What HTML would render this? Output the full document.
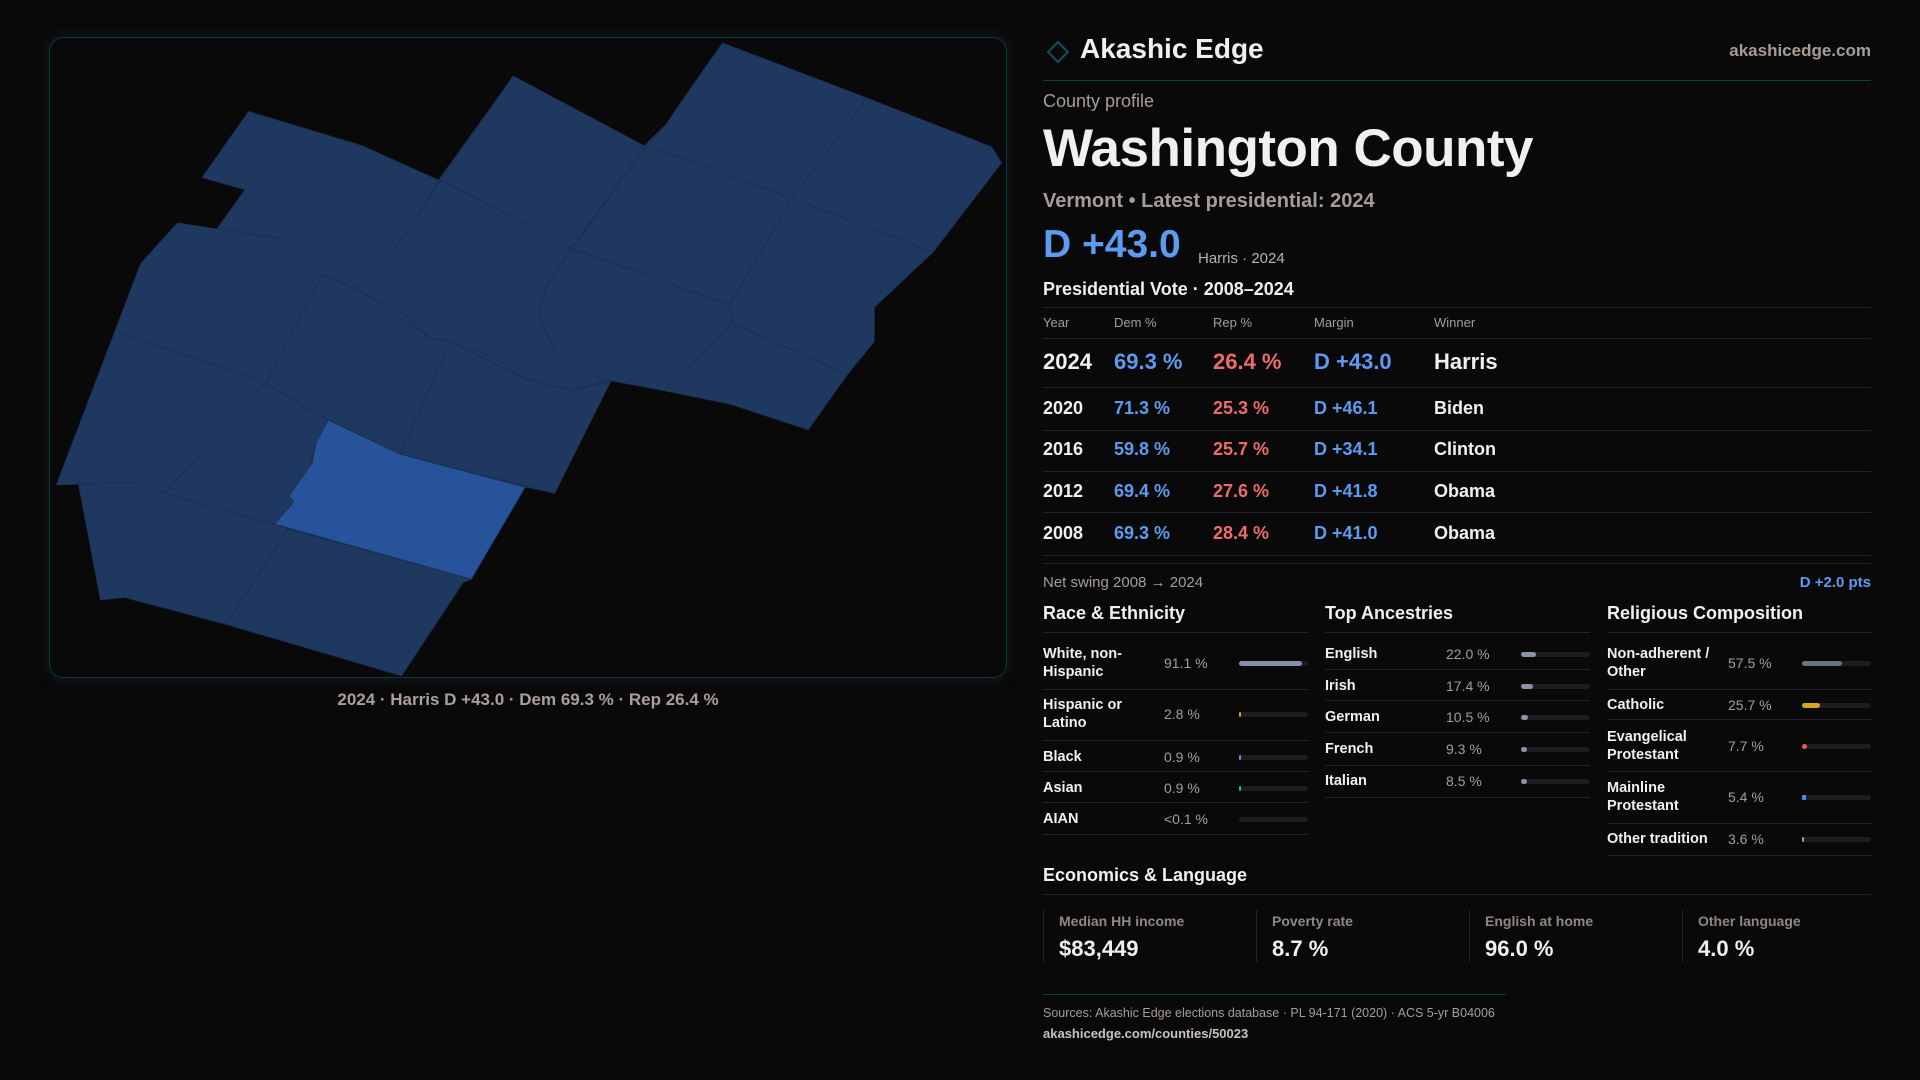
<!DOCTYPE html>
<html><head><meta charset="utf-8">
<style>
*{margin:0;padding:0;box-sizing:border-box}
body{width:1920px;height:1080px;background:#0a0909;font-family:"Liberation Sans",sans-serif;color:#f2f0ee;position:relative;overflow:hidden}
.a{position:absolute;white-space:nowrap}
.g{color:#a59d97}
.hl{position:absolute;left:1043px;width:828px;height:1px;background:#24222a}
.b{color:#5b9cf0}.r{color:#ef6b6b}
.lbl{font-size:14.5px;font-weight:bold;line-height:18px;color:#f2f0ee}
.val{font-size:14px;color:#a59d97}
.trk{position:absolute;height:5px;border-radius:3px;background:#1c1c21}
.bar{position:absolute;left:0;top:0;height:5px;border-radius:3px}
</style></head><body>
<div class="a" style="left:49px;top:37px;width:958px;height:641px;border:1px solid #0f3a42;border-radius:14px;box-shadow:0 0 14px rgba(20,90,110,0.25)"></div>
<svg class="a" style="left:0;top:0" width="1030" height="700" viewBox="0 0 1030 700">
<g transform="scale(1.2245)"><polygon fill="#1e3860" points="203,91 296,119 358,147 419,62 526,119 545,100 553,88 590,35 708,80 810,120 818,133 762,206 714,251 714,279 692,306 660,351 596,330 542,319 499,311 453,403 429,398 385,473 378,476 328,552 185,510 102,488 82,490 64,395 46,396 94,270 115,215 145,182 177,187 200,155 165,145"/></g>
<g id="mapg" transform="scale(1.2245)" stroke="#172e4e" stroke-width="0.6" stroke-linejoin="round"></g>
</svg>
<div class="a g" style="left:0;width:1056px;top:690px;text-align:center;font-size:17px;font-weight:bold;color:#a8a09a">2024 · Harris D +43.0 · Dem 69.3 % · Rep 26.4 %</div>

<div class="a" style="left:1050px;top:44px;width:16px;height:16px;border:2px solid #14505c;transform:rotate(45deg)"></div>
<div class="a" style="left:1080px;top:33px;font-size:28px;font-weight:bold">Akashic Edge</div>
<div class="a g" style="right:49px;top:41px;font-size:17px;font-weight:bold">akashicedge.com</div>
<div class="a" style="left:1043px;top:80px;width:828px;height:1px;background:#0f3c48"></div>
<div class="a g" style="left:1043px;top:91px;font-size:18px">County profile</div>
<div class="a" style="left:1043px;top:118px;font-size:53px;font-weight:bold;letter-spacing:-0.5px">Washington County</div>
<div class="a g" style="left:1043px;top:190px;font-size:20px;font-weight:bold">Vermont • Latest presidential: 2024</div>
<div class="a b" style="left:1043px;top:223px;font-size:39px;font-weight:bold">D +43.0</div>
<div class="a" style="left:1198px;top:250px;font-size:15px;color:#b9b2ac">Harris · 2024</div>
<div class="a" style="left:1043px;top:279px;font-size:18px;font-weight:bold">Presidential Vote · 2008–2024</div>
<div class="hl" style="top:307px"></div>
<div id="votes"></div>
<div class="a g" style="left:1043px;top:574px;font-size:15px">Net swing 2008 → 2024</div>
<div class="a b" style="right:49px;top:574px;font-size:15px;font-weight:bold">D +2.0 pts</div>
<div id="demo"></div>
<div class="a" style="left:1043px;top:865px;font-size:18px;font-weight:bold">Economics &amp; Language</div>
<div class="hl" style="top:894px"></div>
<div id="econ"></div>
<div class="a" style="left:1043px;top:994px;width:463px;height:1px;background:#0f3c48"></div>
<div class="a g" style="left:1043px;top:1006px;font-size:12.5px">Sources: Akashic Edge elections database · PL 94-171 (2020) · ACS 5-yr B04006</div>
<div class="a" style="left:1043px;top:1026px;font-size:13px;font-weight:bold;color:#c8c2bc">akashicedge.com/counties/50023</div>

<script>
const counties=[
[[203,91],[296,119],[358,147],[343,173],[322,203],[292,236],[263,225],[231,195],[177,187],[200,155],[165,145]],
[[419,62],[526,119],[467,203],[360,147]],
[[590,35],[708,80],[647,162],[529,119],[545,100],[553,88]],
[[708,80],[810,120],[818,133],[762,206],[647,162]],
[[360,147],[467,203],[445,236],[440,259],[456,292],[494,311],[467,319],[427,309],[405,292],[368,279],[351,276],[333,259],[314,248],[292,236],[322,203],[343,173]],
[[529,119],[647,162],[596,249],[467,203]],
[[647,162],[762,206],[714,251],[714,279],[692,306],[598,264],[596,249]],
[[467,203],[596,249],[598,264],[542,319],[499,311],[494,311],[456,292],[440,259],[445,236]],
[[598,264],[692,306],[660,351],[596,330],[542,319]],
[[145,182],[177,187],[231,195],[263,225],[217,313],[94,270],[115,215]],
[[263,225],[292,236],[351,276],[368,279],[327,371],[268,343],[217,313]],
[[368,279],[427,309],[467,319],[499,311],[453,403],[327,371]],
[[94,270],[217,313],[134,403],[108,394],[46,396]],
[[217,313],[268,343],[258,365],[253,380],[240,410],[224,428],[134,403]],
[[268,343],[327,371],[429,398],[385,473],[224,428],[240,410],[236,405],[250,385],[255,378],[258,362]],
[[64,395],[108,394],[134,403],[224,428],[235,432],[185,510],[102,488],[82,490]],
[[235,432],[385,473],[378,476],[328,552],[185,510]]
];
const mg=document.getElementById('mapg');
counties.forEach((c,i)=>{
 const p=document.createElementNS('http://www.w3.org/2000/svg','polygon');
 p.setAttribute('points',c.map(q=>q.join(',')).join(' '));
 p.setAttribute('fill',i===14?'#27539a':'#1e3860');
 
 
 mg.appendChild(p);
});

const years=['2024','2020','2016','2012','2008'];
const demPct=[69.3,71.3,59.8,69.4,69.3];
const repPct=[26.4,25.3,25.7,27.6,28.4];
const margins=[43.0,46.1,34.1,41.8,41.0];
const winners=['Harris','Biden','Clinton','Obama','Obama'];
const V=document.getElementById('votes');
function add(parent,html,style,name,cls){const d=document.createElement('div');d.className='a '+(cls||'');d.style.cssText=style;d.innerHTML=html;
 
 
 parent.appendChild(d);return d;}
const cols=[1043,1114,1213,1314,1434];
['Year','Dem %','Rep %','Margin','Winner'].forEach((h,i)=>add(V,h,`left:${cols[i]}px;top:315px;font-size:13px;color:#a59d97`,'table-header'));
add(V,'',`left:1043px;top:338px;width:828px;height:1px;background:#24222a`,'divider');
const rowY=[362,409,450,492,534];
const lineY=[387,430,471,512,555];
years.forEach((y,i)=>{
 const fs=i===0?22:18, t=rowY[i]-fs*0.6;
 add(V,y,`left:${cols[0]}px;top:${t}px;font-size:${fs}px;font-weight:bold`,'year-cell');
 add(V,demPct[i].toFixed(1)+' %',`left:${cols[1]}px;top:${t}px;font-size:${fs}px;font-weight:bold;color:#5b9cf0`,'dem-cell');
 add(V,repPct[i].toFixed(1)+' %',`left:${cols[2]}px;top:${t}px;font-size:${fs}px;font-weight:bold;color:#ef6b6b`,'rep-cell');
 add(V,'D +'+margins[i].toFixed(1),`left:${cols[3]}px;top:${t}px;font-size:${fs}px;font-weight:bold;color:#5b9cf0`,'margin-cell');
 add(V,winners[i],`left:${cols[4]}px;top:${t}px;font-size:${fs}px;font-weight:bold`,'winner-cell');
 add(V,'',`left:1043px;top:${lineY[i]}px;width:828px;height:1px;background:#24222a`,'divider');
});
add(V,'',`left:1043px;top:563px;width:828px;height:1px;background:#24222a`,'divider');

const raceLabels=['White, non-<br>Hispanic','Hispanic or<br>Latino','Black','Asian','AIAN'];
const raceValues=[91.1,2.8,0.9,0.9,0.05];
const raceText=['91.1 %','2.8 %','0.9 %','0.9 %','<0.1 %'];
const ancLabels=['English','Irish','German','French','Italian'];
const ancValues=[22.0,17.4,10.5,9.3,8.5];
const relLabels=['Non-adherent /<br>Other','Catholic','Evangelical<br>Protestant','Mainline<br>Protestant','Other tradition'];
const relValues=[57.5,25.7,7.7,5.4,3.6];
const D=document.getElementById('demo');
const sections=[
 {title:'Race & Ethnicity',x:1043,vx:1164,bx:1239,labels:raceLabels,vals:raceValues,txt:raceText,ys:[663,714,757,788,819],lines:[689,740,771,802,834],colors:['#8390a8','#e09a2a','#8a7fd0','#2fb890','#555']},
 {title:'Top Ancestries',x:1325,vx:1446,bx:1521,labels:ancLabels,vals:ancValues,txt:null,ys:[654,686,717,749,781],lines:[669,700,732,765,797],colors:['#8a93a5','#8a93a5','#8a93a5','#8a93a5','#8a93a5']},
 {title:'Religious Composition',x:1607,vx:1728,bx:1802,labels:relLabels,vals:relValues,txt:null,ys:[663,705,746,797,839],lines:[689,719,771,823,855],colors:['#6b7280','#d9a520','#e05a5a','#4a90e2','#9aa0aa']}
];
sections.forEach(s=>{
 add(D,s.title.replace('&','&amp;'),`left:${s.x}px;top:603px;font-size:18px;font-weight:bold`,'section-title');
 add(D,'',`left:${s.x}px;top:632px;width:265px;height:1px;background:#24222a`,'divider');
 s.labels.forEach((l,i)=>{
  const two=l.includes('<br>');
  add(D,l,`left:${s.x}px;top:${s.ys[i]-(two?18:9)}px`,'row-label','lbl');
  add(D,s.txt?s.txt[i]:s.vals[i].toFixed(1)+' %',`left:${s.vx}px;top:${s.ys[i]-8}px`,'row-value','val');
  const tr=add(D,'',`left:${s.bx}px;top:${s.ys[i]-2}px;width:69px`,'bar-track','trk');
  const b=document.createElement('div');b.className='bar';
  
  
  const w=s.vals[i]<0.5?0:Math.max(2,69*s.vals[i]/100);
  b.style.width=w+'px';b.style.background=s.colors[i];
  if(w<5)b.style.borderRadius='1px';
  tr.appendChild(b);
  add(D,'',`left:${s.x}px;top:${s.lines[i]}px;width:265px;height:1px;background:#24222a`,'divider');
 });
});

const econLabels=['Median HH income','Poverty rate','English at home','Other language'];
const econValues=['$83,449','8.7 %','96.0 %','4.0 %'];
const E=document.getElementById('econ');
econLabels.forEach((l,i)=>{
 const x=1043+i*213;
 add(E,'',`left:${x}px;top:910px;width:1px;height:52px;background:#24222a`,'card-divider');
 add(E,l,`left:${x+16}px;top:913px;font-size:14px;font-weight:bold;color:#8f8882`,'stat-label');
 add(E,econValues[i],`left:${x+16}px;top:936px;font-size:22px;font-weight:bold`,'stat-value');
});
</script>
</body></html>
